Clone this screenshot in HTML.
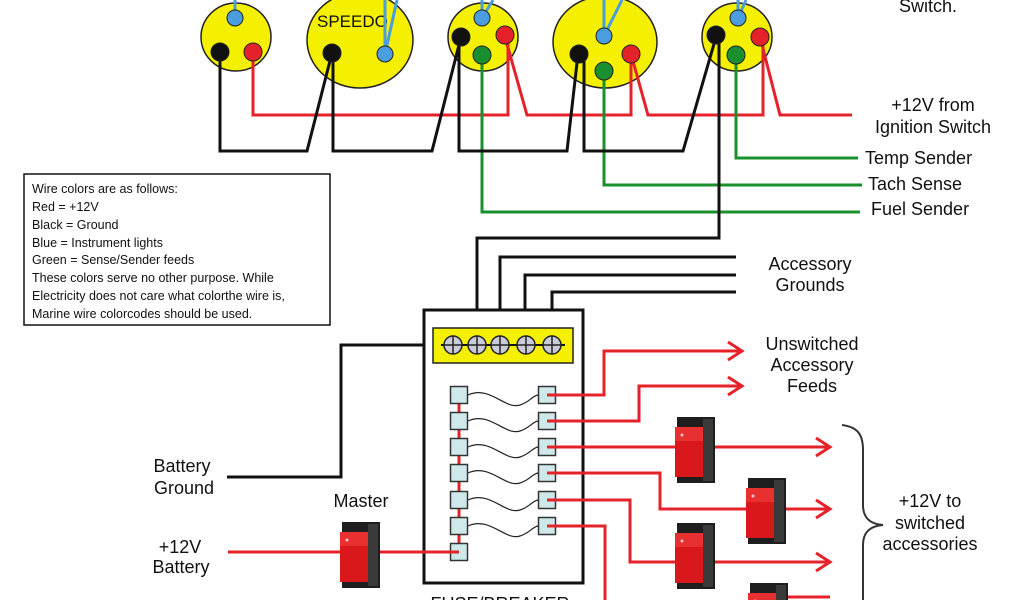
<!DOCTYPE html>
<html><head><meta charset="utf-8"><style>
html,body{margin:0;padding:0;background:#fff;width:1024px;height:600px;overflow:hidden;}
svg{display:block;}
text{font-family:"Liberation Sans",sans-serif;fill:#111;}
</style></head><body>
<svg width="1024" height="600" viewBox="0 0 1024 600" xmlns="http://www.w3.org/2000/svg" style="overflow:hidden">
<defs>
<g id="sw">
<rect x="2" y="0" width="38" height="66" fill="#1e1e1e"/>
<rect x="28" y="2" width="10" height="62" fill="#3a3a3a"/>
<rect x="0" y="10" width="28" height="50" fill="#d8181a"/>
<rect x="0" y="10" width="28" height="14" fill="#e83030"/>
<circle cx="7" cy="18" r="1.5" fill="#ffcccc"/>
</g>
<g id="sq"><rect x="-8.5" y="-8.5" width="17" height="17" fill="#cfe9ea" stroke="#333" stroke-width="1.5"/></g>
<g id="term"><circle r="9" fill="#c9ccd8" stroke="#222" stroke-width="1.5"/><line x1="-9" y1="0" x2="9" y2="0" stroke="#222" stroke-width="1.5"/><line x1="0" y1="-9" x2="0" y2="9" stroke="#222" stroke-width="1.5"/></g>
</defs>

<g stroke="#222" stroke-width="1.5" fill="#f5f000">
<ellipse cx="236" cy="37" rx="35" ry="34"/>
<ellipse cx="360" cy="40" rx="53" ry="48"/>
<ellipse cx="483" cy="37" rx="35" ry="34"/>
<ellipse cx="605" cy="42" rx="52" ry="46"/>
<ellipse cx="737" cy="37" rx="35" ry="34"/>
</g>
<text x="317" y="27" font-size="17">SPEEDO</text>

<g stroke="#4a9ee0" stroke-width="3" fill="none">
<line x1="235" y1="0" x2="235" y2="18"/>
<line x1="385" y1="0" x2="385" y2="54"/><line x1="397" y1="0" x2="385" y2="54"/>
<line x1="482" y1="0" x2="482" y2="18"/><line x1="493" y1="0" x2="482" y2="18"/>
<line x1="604" y1="0" x2="604" y2="36"/><line x1="622" y1="0" x2="604" y2="36"/>
<line x1="738" y1="0" x2="738" y2="18"/><line x1="746" y1="0" x2="738" y2="18"/>
</g>

<g stroke="#e5222a" stroke-width="3" fill="none">
<polyline points="253,52 253,115 508,115 508,37"/>
<polyline points="505,37 527,115 631,115 631,54"/>
<polyline points="631,54 648,115 763,115 763,37"/>
<polyline points="760,37 780,115 852,115"/>
</g>
<g stroke="#1a8f2e" stroke-width="3" fill="none">
<polyline points="736,55 736,158 858,158"/>
<polyline points="604,71 604,185 862,185"/>
<polyline points="482,55 482,212 860,212"/>
</g>
<g stroke="#111" stroke-width="3" fill="none">
<polyline points="220,52 220,151 307,151 332,53"/>
<polyline points="333,53 333,151 432,151 461,37"/>
<polyline points="459,37 459,151 567,151 578,54"/>
<polyline points="584,54 584,151 683,151 716,37"/>
<polyline points="719,37 719,238 477,238 477,345"/>
<polyline points="500,345 500,257 736,257"/>
<polyline points="525,345 525,275 736,275"/>
<polyline points="552,345 552,292 736,292"/>
<polyline points="453,345 341,345 341,477 227,477"/>
</g>
<g stroke="#222" stroke-width="1">
<circle cx="235" cy="18" r="8" fill="#4a9ee0"/>
<circle cx="220" cy="52" r="9" fill="#111"/><circle cx="253" cy="52" r="9" fill="#e5222a"/>
<circle cx="332" cy="53" r="9" fill="#111"/><circle cx="385" cy="54" r="8" fill="#4a9ee0"/>
<circle cx="482" cy="18" r="8" fill="#4a9ee0"/><circle cx="461" cy="37" r="9" fill="#111"/><circle cx="505" cy="35" r="9" fill="#e5222a"/><circle cx="482" cy="55" r="9" fill="#1a8f2e"/>
<circle cx="604" cy="36" r="8" fill="#4a9ee0"/><circle cx="579" cy="54" r="9" fill="#111"/><circle cx="631" cy="54" r="9" fill="#e5222a"/><circle cx="604" cy="71" r="9" fill="#1a8f2e"/>
<circle cx="738" cy="18" r="8" fill="#4a9ee0"/><circle cx="716" cy="35" r="9" fill="#111"/><circle cx="760" cy="37" r="9" fill="#e5222a"/><circle cx="736" cy="55" r="9" fill="#1a8f2e"/>
</g>

<g font-size="18" text-anchor="middle">
<text x="928" y="12">Switch.</text>
<text x="933" y="111">+12V from</text>
<text x="933" y="133">Ignition Switch</text>
</g>
<g font-size="18">
<text x="865" y="164">Temp Sender</text>
<text x="868" y="190">Tach Sense</text>
<text x="871" y="215">Fuel Sender</text>
</g>
<g font-size="18" text-anchor="middle">
<text x="810" y="270">Accessory</text>
<text x="810" y="291">Grounds</text>
<text x="812" y="350">Unswitched</text>
<text x="812" y="371">Accessory</text>
<text x="812" y="392">Feeds</text>
<text x="930" y="507">+12V to</text>
<text x="930" y="529">switched</text>
<text x="930" y="550">accessories</text>
<text x="182" y="472">Battery</text>
<text x="184" y="494">Ground</text>
<text x="361" y="507">Master</text>
<text x="180" y="553">+12V</text>
<text x="181" y="573">Battery</text>
<text x="500" y="610">FUSE/BREAKER</text>
</g>

<rect x="24" y="174" width="306" height="151" fill="#fff" stroke="#111" stroke-width="1.5"/>
<g font-size="12.5">
<text x="32" y="193">Wire colors are as follows:</text>
<text x="32" y="211">Red = +12V</text>
<text x="32" y="229">Black = Ground</text>
<text x="32" y="247">Blue = Instrument lights</text>
<text x="32" y="264">Green = Sense/Sender feeds</text>
<text x="32" y="282">These colors serve no other purpose. While</text>
<text x="32" y="300">Electricity does not care what colorthe wire is,</text>
<text x="32" y="318">Marine wire colorcodes should be used.</text>
</g>

<rect x="424" y="310" width="159" height="273" fill="#fff" stroke="#111" stroke-width="3"/>
<rect x="433" y="328" width="140" height="35" fill="#f5f000" stroke="#222" stroke-width="1.5"/>
<line x1="441" y1="345" x2="565" y2="345" stroke="#111" stroke-width="2"/>
<use href="#term" x="453" y="345"/><use href="#term" x="477" y="345"/><use href="#term" x="500" y="345"/><use href="#term" x="526" y="345"/><use href="#term" x="552" y="345"/>
<line x1="459" y1="395" x2="459" y2="552" stroke="#e5222a" stroke-width="3"/>
<g stroke="#222" stroke-width="1.2" fill="none">
<path d="M468,395 C490,385 505,410 520,405 C530,402 532,396 538,395"/>
<path d="M468,421 C490,411 505,436 520,431 C530,428 532,422 538,421"/>
<path d="M468,447 C490,437 505,462 520,457 C530,454 532,448 538,447"/>
<path d="M468,473 C490,463 505,488 520,483 C530,480 532,474 538,473"/>
<path d="M468,500 C490,490 505,515 520,510 C530,507 532,501 538,500"/>
<path d="M468,526 C490,516 505,541 520,536 C530,533 532,527 538,526"/>
</g>
<g>
<use href="#sq" x="459" y="395"/><use href="#sq" x="459" y="421"/><use href="#sq" x="459" y="447"/><use href="#sq" x="459" y="473"/><use href="#sq" x="459" y="500"/><use href="#sq" x="459" y="526"/><use href="#sq" x="459" y="552"/>
<use href="#sq" x="547" y="395"/><use href="#sq" x="547" y="421"/><use href="#sq" x="547" y="447"/><use href="#sq" x="547" y="473"/><use href="#sq" x="547" y="500"/><use href="#sq" x="547" y="526"/>
</g>

<g stroke="#e5222a" stroke-width="3" fill="none">
<polyline points="547,395 604,395 604,351 740,351"/>
<polyline points="547,421 639,421 639,386 740,386"/>
<polyline points="547,447 828,447"/>
<polyline points="547,473 660,473 660,509 828,509"/>
<polyline points="547,500 630,500 630,562 828,562"/>
<polyline points="547,526 605,526 605,600"/>
<polyline points="228,552 459,552"/>
<polyline points="728,342 742,351 728,360"/>
<polyline points="728,377 742,386 728,395"/>
<polyline points="816,438 830,447 816,456"/>
<polyline points="816,500 830,509 816,518"/>
<polyline points="816,553 830,562 816,571"/>
<polyline points="788,597 830,597"/>
</g>
<use href="#sw" x="675" y="417"/>
<use href="#sw" x="746" y="478"/>
<use href="#sw" x="675" y="523"/>
<use href="#sw" x="748" y="583"/>
<use href="#sw" x="340" y="522"/>

<path d="M842,425 C858,427 863,435 863,450 L863,505 C863,518 870,524 883,525 C870,526 863,532 863,545 L863,600" stroke="#333" stroke-width="2" fill="none"/>
</svg>
</body></html>
